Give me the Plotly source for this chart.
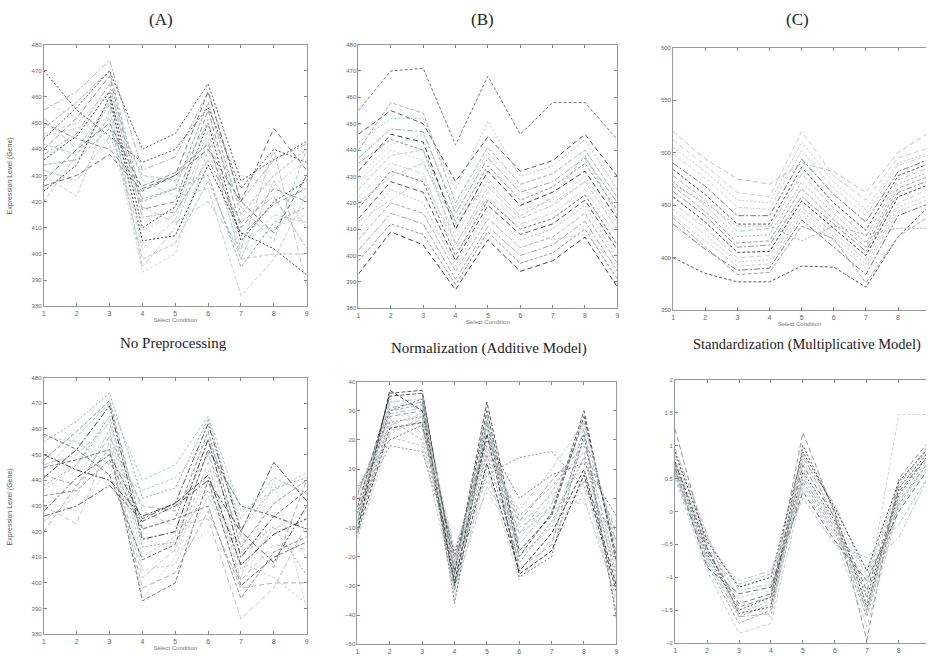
import plotly.graph_objects as go

conditions = [1, 2, 3, 4, 5, 6, 7, 8, 9]

# Panel (A) top: no preprocessing
genes_a_top = [
    [455, 462, 474, 432, 437, 462, 420, 436, 442],
    [448, 458, 470, 420, 425, 458, 415, 430, 440],
    [440, 452, 468, 417, 420, 455, 410, 425, 420],
    [436, 445, 462, 410, 418, 450, 405, 420, 428],
    [430, 422, 455, 402, 413, 447, 402, 415, 412],
    [452, 440, 458, 395, 410, 444, 398, 428, 410],
    [445, 448, 452, 393, 400, 440, 400, 410, 415],
    [428, 440, 450, 425, 430, 462, 420, 448, 432],
    [470, 455, 445, 435, 440, 456, 425, 440, 435],
    [442, 438, 457, 430, 428, 450, 418, 405, 440],
    [438, 446, 465, 414, 416, 436, 412, 422, 402],
    [434, 436, 448, 421, 425, 430, 395, 412, 418],
    [450, 444, 440, 426, 431, 442, 407, 419, 425],
    [424, 434, 460, 405, 407, 434, 408, 402, 392],
    [446, 450, 462, 428, 422, 425, 384, 398, 423],
    [432, 428, 445, 418, 412, 420, 402, 440, 388],
    [458, 452, 442, 409, 415, 452, 430, 426, 436],
    [426, 430, 438, 424, 430, 440, 420, 408, 430],
    [444, 456, 470, 440, 446, 465, 428, 436, 443],
    [420, 438, 452, 398, 404, 428, 398, 400, 400],
]

# Panel (B) top
genes_b_top = [
    [455, 470, 471, 442, 468, 446, 458, 458, 444],
    [446, 455, 450, 428, 445, 432, 436, 446, 430],
    [443, 452, 452, 425, 451, 430, 434, 444, 425],
    [440, 458, 454, 420, 441, 427, 431, 440, 422],
    [437, 448, 447, 416, 437, 424, 428, 437, 420],
    [435, 444, 440, 413, 434, 421, 426, 435, 417],
    [432, 446, 443, 410, 432, 419, 424, 432, 414],
    [428, 440, 436, 407, 429, 417, 421, 430, 412],
    [425, 438, 440, 404, 426, 414, 419, 428, 410],
    [422, 435, 431, 402, 424, 412, 416, 425, 407],
    [418, 432, 428, 400, 421, 410, 414, 423, 404],
    [414, 428, 424, 398, 419, 408, 412, 421, 402],
    [410, 425, 420, 396, 417, 406, 410, 419, 399],
    [406, 420, 416, 394, 414, 403, 407, 416, 397],
    [402, 416, 412, 391, 411, 400, 404, 413, 394],
    [398, 412, 408, 389, 409, 397, 401, 410, 391],
    [393, 409, 404, 387, 406, 394, 398, 407, 388],
    [430, 442, 446, 418, 439, 425, 420, 428, 418],
    [420, 430, 435, 412, 428, 415, 422, 438, 415],
    [413, 421, 429, 405, 422, 410, 406, 408, 396],
]

# Panel (C) top
genes_c_top = [
    [512, 488, 462, 458, 520, 478, 455, 495, 505],
    [505, 482, 455, 452, 510, 472, 446, 490, 500],
    [498, 476, 448, 446, 502, 466, 440, 488, 498],
    [490, 468, 440, 440, 494, 460, 434, 482, 494],
    [484, 460, 432, 432, 486, 452, 426, 478, 490],
    [478, 455, 425, 428, 480, 447, 420, 474, 486],
    [472, 450, 420, 422, 472, 442, 414, 470, 482],
    [468, 444, 414, 416, 466, 436, 410, 466, 478],
    [463, 440, 410, 412, 458, 432, 406, 462, 474],
    [458, 434, 405, 406, 454, 428, 402, 458, 470],
    [452, 428, 400, 402, 448, 424, 398, 452, 466],
    [446, 422, 396, 398, 444, 420, 394, 448, 460],
    [440, 416, 392, 394, 440, 416, 390, 444, 456],
    [432, 408, 388, 390, 436, 410, 384, 440, 452],
    [400, 385, 377, 377, 392, 391, 372, 420, 450],
    [520, 494, 475, 470, 490, 482, 462, 500, 520],
    [470, 452, 430, 430, 416, 430, 422, 428, 428],
    [438, 410, 384, 386, 430, 418, 376, 420, 440],
]

# Bottom row
genes_a_bottom = [
    [455, 463, 474, 433, 437, 464, 421, 437, 441],
    [448, 459, 471, 421, 425, 459, 414, 431, 440],
    [441, 452, 469, 417, 420, 456, 410, 426, 421],
    [436, 446, 463, 410, 418, 451, 405, 421, 428],
    [430, 423, 455, 402, 413, 447, 401, 415, 413],
    [452, 441, 459, 394, 410, 444, 397, 428, 410],
    [445, 448, 452, 393, 400, 440, 399, 410, 416],
    [428, 441, 450, 425, 431, 462, 420, 447, 432],
    [457, 455, 446, 436, 441, 456, 425, 441, 435],
    [442, 438, 457, 430, 428, 450, 418, 406, 440],
    [438, 446, 465, 414, 416, 436, 412, 422, 403],
    [434, 436, 448, 421, 425, 430, 394, 412, 418],
    [450, 444, 440, 426, 431, 442, 407, 419, 425],
    [424, 434, 460, 405, 407, 434, 408, 402, 392],
    [446, 450, 462, 428, 422, 425, 386, 398, 423],
    [432, 428, 445, 418, 412, 420, 402, 440, 390],
    [458, 452, 442, 409, 415, 452, 430, 426, 436],
    [426, 430, 438, 424, 430, 440, 420, 408, 430],
    [444, 457, 470, 440, 446, 465, 428, 436, 443],
    [420, 438, 452, 398, 404, 428, 398, 400, 400],
]

genes_b_bottom = [
    [-8, 36, 37, -26, 30, -20, -5, 30, -22],
    [-5, 33, 34, -24, 26, -16, -2, 26, -18],
    [-2, 30, 32, -22, 22, -12, 2, 22, -15],
    [2, 28, 30, -20, 18, -8, 6, 18, -12],
    [-10, 26, 28, -28, 15, -22, -8, 14, -26],
    [-12, 24, 26, -30, 12, -25, -12, 10, -30],
    [-6, 22, 28, -34, 10, -28, -14, 6, -36],
    [-13, 34, 24, -18, 6, -10, -3, 2, -8],
    [0, 32, 22, -21, 2, -14, 0, -2, -10],
    [4, 20, 25, -19, 20, 0, 8, 12, -6],
    [-3, 35, 36, -25, 33, -18, -6, 28, -20],
    [-7, 29, 31, -27, 24, -20, -10, 20, -24],
    [-9, 27, 20, -23, 16, -6, 4, 16, -28],
    [1, 31, 33, -32, 28, -24, -16, 24, -40],
    [-4, 18, 16, -20, 8, 14, 16, 4, -14],
    [-11, 37, 30, -29, 22, -26, -18, 8, -32],
    [3, 25, 29, -17, 14, -4, 10, 26, -16],
    [-14, 21, 18, -31, 4, -12, -4, 0, -34],
    [-1, 23, 27, -24, 18, -9, 1, 10, -22],
    [-5, 30, 34, -36, 26, -27, -20, 22, -41],
]

genes_c_bottom = [
    [0.85, -0.4, -1.2, -1.1, 0.8, 0.1, -1.0, 0.4, 1.0],
    [0.80, -0.5, -1.3, -1.2, 0.75, 0.0, -1.1, 0.35, 0.95],
    [0.75, -0.6, -1.4, -1.25, 0.7, -0.1, -1.2, 0.3, 0.9],
    [0.70, -0.65, -1.5, -1.3, 0.6, -0.15, -1.3, 0.25, 0.9],
    [0.65, -0.7, -1.55, -1.35, 0.55, -0.2, -1.4, 0.2, 0.85],
    [0.60, -0.75, -1.6, -1.4, 0.5, -0.25, -1.5, 0.15, 0.8],
    [0.55, -0.8, -1.7, -1.5, 0.45, -0.3, -1.6, 0.1, 0.8],
    [1.25, -0.55, -1.45, -1.3, 1.2, -0.05, -1.95, 0.5, 1.1],
    [0.9, -0.45, -1.15, -1.0, 0.9, 0.05, -0.9, 0.45, 1.0],
    [0.5, -0.9, -1.85, -1.7, 0.35, -0.4, -1.75, 0.05, 0.75],
    [0.7, -0.6, -1.05, -0.9, 0.4, -0.35, -0.85, -0.4, 0.6],
    [0.8, -0.5, -1.35, -1.6, 0.65, -0.2, -1.25, 1.47, 1.47],
    [0.65, -0.85, -1.25, -1.15, 0.3, -0.45, -1.05, 0.0, 0.7],
    [0.75, -0.55, -1.55, -1.45, 1.0, 0.0, -1.45, 0.35, 0.95],
    [0.6, -0.7, -1.1, -0.95, 0.2, -0.5, -0.7, -0.2, 0.6],
    [0.95, -0.35, -1.6, -1.55, 0.85, -0.1, -1.55, 0.4, 1.05],
]

ticks_a = [380, 390, 400, 410, 420, 430, 440, 450, 460, 470, 480]
ticks_b_top = [380, 390, 400, 410, 420, 430, 440, 450, 460, 470, 480]
ticks_c_top = [350, 400, 450, 500, 550, 600]
ticks_b_bottom = [-50, -40, -30, -20, -10, 0, 10, 20, 30, 40]
ticks_c_bottom = [-2, -1.5, -1, -0.5, 0, 0.5, 1, 1.5, 2]

panel_titles = ["(A)", "(B)", "(C)"]
captions = ["No Preprocessing", "Normalization (Additive Model)",
            "Standardization (Multiplicative Model)"]
y_title = "Expression Level (Gene)"
x_title = "Select Condition"

palette = ["#2e2e2e", "#a9a9a9", "#6a6a6a", "#c3cbcb", "#8fa3a4",
           "#4a4a4a", "#b8c2c4", "#8a8a8a", "#a8c0c2", "#cfcfcf"]
dashes = ["4px,2px", "6px,2px,2px,2px", "3px,2px", "5px,3px", "2px,2px"]

W, H = 928, 668

panels = [
    (genes_a_top, 1, (42, 306), (42, 306), [380, 480], ticks_a, [1, 9], True),
    (genes_b_top, 2, (358, 618), (42, 308), [380, 480], ticks_b_top, [1, 9], True),
    (genes_c_top, 3, (674, 928), (45, 310), [350, 600], ticks_c_top, [1, 8.87], True),
    (genes_a_bottom, 4, (42, 306), (378, 637), [380, 480], ticks_a, [1, 9], True),
    (genes_b_bottom, 5, (357, 617), (382, 647), [-50, 40], ticks_b_bottom, [1, 9], False),
    (genes_c_bottom, 6, (676, 928), (380, 646), [-2, 2], ticks_c_bottom, [1, 8.85], False),
]

fig = go.Figure()
layout = {}
for data, k, (x0, x1), (yt, yb), yr, yt_vals, xr, sx in panels:
    xa = "x" if k == 1 else f"x{k}"
    ya = "y" if k == 1 else f"y{k}"
    for i, g in enumerate(data):
        fig.add_trace(go.Scatter(
            x=conditions, y=g, mode="lines", xaxis=xa, yaxis=ya,
            line=dict(color=palette[(i * 3 + k) % len(palette)], width=1,
                      dash=dashes[(i + k) % len(dashes)]),
            opacity=0.9, showlegend=False, hoverinfo="skip"))
    is_c = k in (3, 6)
    layout["xaxis" if k == 1 else f"xaxis{k}"] = dict(
        domain=[x0 / W, x1 / W], anchor=ya, range=xr,
        tickvals=conditions, ticks="inside", ticklen=3, tickcolor="#888",
        showline=True, linecolor="#999", linewidth=1, mirror="ticks",
        showgrid=False, zeroline=False,
        tickfont=dict(family="Liberation Sans", size=7, color="#666"),
        title=dict(text=x_title if sx else "",
                   font=dict(family="Liberation Sans", size=6, color="#777"), standoff=2),
    )
    layout["yaxis" if k == 1 else f"yaxis{k}"] = dict(
        domain=[1 - yb / H, 1 - yt / H], anchor=xa, range=yr,
        tickvals=yt_vals, ticks="inside", ticklen=3, tickcolor="#888",
        showline=True, linecolor="#999", linewidth=1,
        mirror=(False if is_c else "ticks"),
        showgrid=False, zeroline=False,
        tickfont=dict(family="Liberation Sans", size=6, color="#666"),
    )

annotations = []
for t, x in zip(panel_titles, [160, 483, 799]):
    annotations.append(dict(text=t, x=x / W, y=1 - 17 / H, xref="paper", yref="paper",
                            xanchor="center", yanchor="middle", showarrow=False,
                            font=dict(family="Liberation Serif", size=17, color="#222")))
for t, x, y, s in zip(captions, [172, 489, 808], [343, 349, 345], [15, 15, 14.5]):
    annotations.append(dict(text=t, x=x / W, y=1 - y / H, xref="paper", yref="paper",
                            xanchor="center", yanchor="middle", showarrow=False,
                            font=dict(family="Liberation Serif", size=s, color="#222")))
for yc in [174, 508]:
    annotations.append(dict(text=y_title, x=8 / W, y=1 - yc / H, xref="paper", yref="paper",
                            xanchor="center", yanchor="middle", textangle=-90, showarrow=False,
                            font=dict(family="Liberation Sans", size=7, color="#555")))

fig.update_layout(
    width=W, height=H, margin=dict(l=0, r=0, t=0, b=0),
    paper_bgcolor="white", plot_bgcolor="white",
    annotations=annotations, **layout)

fig.write_html("out.html")
